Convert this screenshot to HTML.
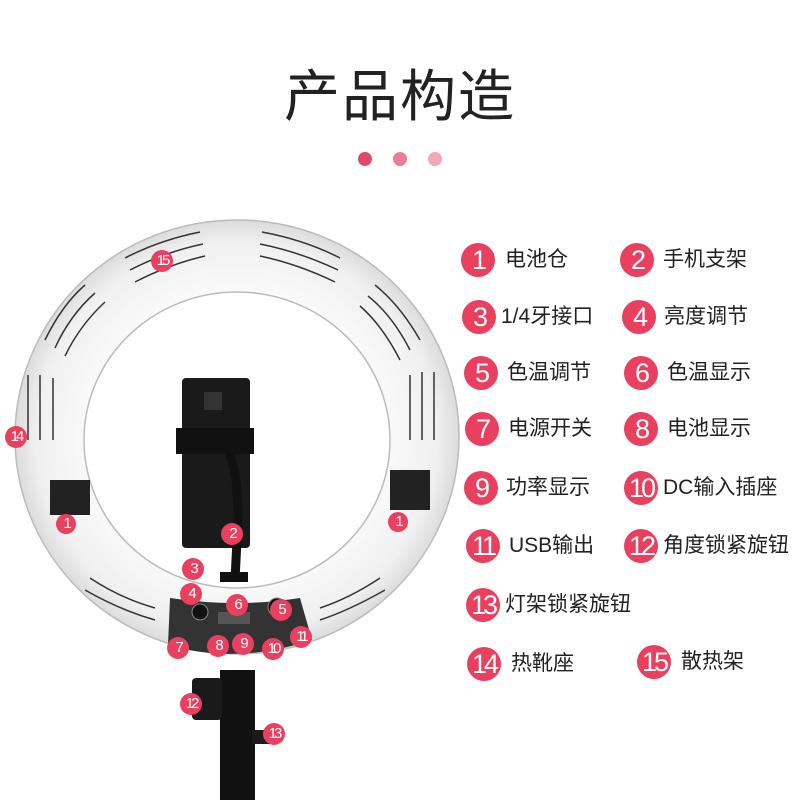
<!DOCTYPE html>
<html><head><meta charset="utf-8"><style>
html,body{margin:0;padding:0;background:#fff;}
body{width:800px;height:800px;position:relative;overflow:hidden;font-family:"Liberation Sans","Noto Sans CJK SC",sans-serif;}
.t{position:absolute;left:0;width:800px;top:62px;text-align:center;font-size:56px;color:#222;letter-spacing:2px;line-height:70px;}
.c{position:absolute;width:34px;height:34px;border-radius:50%;background:#e8405e;color:#fff;font-size:27px;line-height:34px;text-align:center;letter-spacing:-3px;}
.l{position:absolute;font-size:21px;color:#222;line-height:34px;white-space:nowrap;}
</style></head><body>
<div class="t">产品构造</div>
<svg width="800" height="800" style="position:absolute;left:0;top:0">
<circle cx="365" cy="159" r="7" fill="#e04a68"/>
<circle cx="400" cy="159" r="7" fill="#ec7f95"/>
<circle cx="435" cy="159" r="7" fill="#f2a8b6"/>
<defs><radialGradient id="g" cx="0.5" cy="0.5" r="0.5">
<stop offset="0.6" stop-color="#fdfdfd"/><stop offset="0.9" stop-color="#f0f0f0"/><stop offset="1" stop-color="#dcdcdc"/></radialGradient></defs>
<path fill-rule="evenodd" fill="url(#g)" stroke="#bbb" stroke-width="1.5"
d="M15,437 a222,217 0 1,0 444,0 a222,217 0 1,0 -444,0 Z M84,440 a153,148 0 1,0 306,0 a153,148 0 1,0 -306,0 Z"/>
<g stroke="#333" stroke-width="1.5" fill="none">
<path d="M125,258 Q160,240 200,232 M130,270 Q165,252 203,244 M135,282 Q170,264 205,256"/>
<path d="M262,232 Q305,240 340,258 M260,244 Q300,252 338,270 M260,256 Q298,264 335,282"/>
<path d="M45,340 Q62,305 85,285 M55,348 Q70,315 95,293 M65,356 Q80,325 105,302"/>
<path d="M375,285 Q400,305 420,340 M368,296 Q392,315 410,350 M360,306 Q382,325 400,360"/>
<path d="M28,375 L28,440 M40,375 L40,440 M53,378 L53,440"/>
<path d="M410,375 L410,440 M422,372 L422,440 M434,372 L434,440"/>
<path d="M85,590 Q120,610 155,620 M90,578 Q120,598 155,608"/>
<path d="M320,620 Q350,610 385,590 M320,608 Q350,598 380,578"/>
</g>
<rect x="50" y="480" width="40" height="35" fill="#222"/>
<rect x="390" y="470" width="40" height="40" fill="#222"/>
<path d="M170,598 Q237,608 300,598 L312,640 Q237,665 168,645 Z" fill="#333"/>
<circle cx="200" cy="612" r="8" fill="#111" stroke="#888"/>
<circle cx="277" cy="607" r="9" fill="#111" stroke="#888"/>
<rect x="218" y="612" width="32" height="12" fill="#555"/>
<rect x="182" y="378" width="68" height="170" rx="4" fill="#1a1a1a"/>
<rect x="176" y="428" width="78" height="26" fill="#111"/>
<rect x="204" y="392" width="18" height="18" fill="#333"/>
<path d="M223,442 Q238,460 238,520 L235,580" stroke="#111" stroke-width="9" fill="none"/>
<rect x="220" y="572" width="28" height="10" fill="#111"/>
<rect x="220" y="670" width="35" height="130" fill="#111"/>
<rect x="192" y="678" width="30" height="42" rx="4" fill="#1a1a1a"/>
<rect x="252" y="730" width="22" height="14" fill="#1a1a1a"/>
</svg>
<div class="c" style="left:461px;top:243px">1</div><div class="l" style="left:505px;top:243px">电池仓</div>
<div class="c" style="left:620px;top:243px">2</div><div class="l" style="left:663px;top:243px">手机支架</div>
<div class="c" style="left:462px;top:300px">3</div><div class="l" style="left:501px;top:300px">1/4牙接口</div>
<div class="c" style="left:622px;top:300px">4</div><div class="l" style="left:664px;top:300px">亮度调节</div>
<div class="c" style="left:464px;top:356px">5</div><div class="l" style="left:507px;top:356px">色温调节</div>
<div class="c" style="left:624px;top:356px">6</div><div class="l" style="left:667px;top:356px">色温显示</div>
<div class="c" style="left:465px;top:412px">7</div><div class="l" style="left:508px;top:412px">电源开关</div>
<div class="c" style="left:624px;top:412px">8</div><div class="l" style="left:667px;top:412px">电池显示</div>
<div class="c" style="left:464px;top:471px">9</div><div class="l" style="left:506px;top:471px">功率显示</div>
<div class="c" style="left:624px;top:471px">10</div><div class="l" style="left:663px;top:471px">DC输入插座</div>
<div class="c" style="left:466px;top:529px">11</div><div class="l" style="left:509px;top:529px">USB输出</div>
<div class="c" style="left:624px;top:529px">12</div><div class="l" style="left:663px;top:529px">角度锁紧旋钮</div>
<div class="c" style="left:466px;top:588px">13</div><div class="l" style="left:505px;top:588px">灯架锁紧旋钮</div>
<div class="c" style="left:467px;top:647px">14</div><div class="l" style="left:511px;top:647px">热靴座</div>
<div class="c" style="left:637px;top:645px">15</div><div class="l" style="left:681px;top:645px">散热架</div>
<div class="c" style="left:151px;top:250px;width:22px;height:22px;line-height:22px;font-size:15px">15</div>
<div class="c" style="left:5px;top:426px;width:22px;height:22px;line-height:22px;font-size:15px">14</div>
<div class="c" style="left:56px;top:514px;width:20px;height:20px;line-height:20px;font-size:15px">1</div>
<div class="c" style="left:388px;top:512px;width:20px;height:20px;line-height:20px;font-size:15px">1</div>
<div class="c" style="left:221px;top:523px;width:22px;height:22px;line-height:22px;font-size:15px">2</div>
<div class="c" style="left:182px;top:558px;width:22px;height:22px;line-height:22px;font-size:15px">3</div>
<div class="c" style="left:180px;top:583px;width:22px;height:22px;line-height:22px;font-size:15px">4</div>
<div class="c" style="left:226px;top:594px;width:22px;height:22px;line-height:22px;font-size:15px">6</div>
<div class="c" style="left:270px;top:599px;width:22px;height:22px;line-height:22px;font-size:15px">5</div>
<div class="c" style="left:167px;top:637px;width:22px;height:22px;line-height:22px;font-size:15px">7</div>
<div class="c" style="left:207px;top:635px;width:22px;height:22px;line-height:22px;font-size:15px">8</div>
<div class="c" style="left:232px;top:633px;width:22px;height:22px;line-height:22px;font-size:15px">9</div>
<div class="c" style="left:262px;top:638px;width:22px;height:22px;line-height:22px;font-size:15px">10</div>
<div class="c" style="left:290px;top:626px;width:22px;height:22px;line-height:22px;font-size:15px">11</div>
<div class="c" style="left:180px;top:693px;width:22px;height:22px;line-height:22px;font-size:15px">12</div>
<div class="c" style="left:263px;top:723px;width:22px;height:22px;line-height:22px;font-size:15px">13</div>
</body></html>
